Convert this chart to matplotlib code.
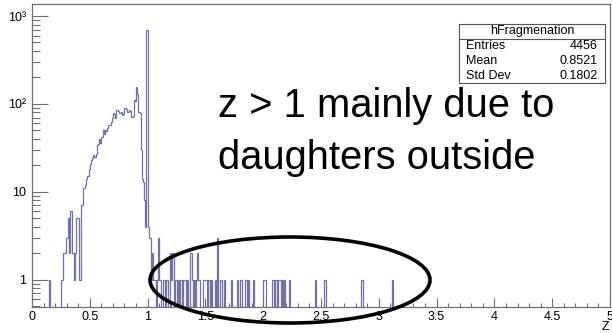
import numpy as np
import matplotlib
matplotlib.use("Agg")
import matplotlib.pyplot as plt
from matplotlib.patches import Ellipse, Rectangle
from matplotlib.ticker import FixedLocator, FixedFormatter, NullFormatter

plt.rcParams['font.family'] = ['Liberation Sans', 'DejaVu Sans']

# ---- data: histogram of z, 500 bins of width 0.01 on [0, 5] ----
bin_width = 0.01
n_bins = 500
# counts for bins 0.00 .. 0.99 (index = bin number)
low_counts = [0]*15 + [1] + [0]*9 + [
    1, 1, 2, 2, 3, 3, 5, 2, 6, 6,        # 0.25-0.34
    2, 1, 2, 5, 5, 5, 1, 7, 7, 11,       # 0.35-0.44
    11, 12, 14, 15, 18, 21, 23, 24, 26, 25,  # 0.45-0.54
    27, 34, 35, 40, 36, 42, 50, 45, 51, 49,  # 0.55-0.64
    53, 57, 58, 62, 70, 79, 77, 70, 85, 84,  # 0.65-0.74
    79, 78, 81, 74, 76, 90, 88, 81, 80, 85,  # 0.75-0.84
    84, 71, 72, 110, 108, 155, 130, 81, 79, 30,  # 0.85-0.94
    14, 13, 8, 4, 700,                   # 0.95-0.99
]
# sparse bins above z = 1 : bin index and count
high_bins = [100, 101, 102, 103, 104, 105, 106, 108, 109, 110, 111, 113, 114,
             116, 117, 119, 120, 121, 122, 124, 126, 128, 129, 131, 132, 134,
             137, 138, 140, 142, 143, 144, 148, 149, 150, 152, 153, 155, 158,
             160, 163, 166, 172, 177, 180, 181, 184, 185, 187, 191, 200, 201,
             208, 210, 211, 213, 214, 216, 218, 222, 245, 253, 285, 311]
high_counts = [4, 3, 3, 1, 2, 1, 1, 1, 3, 1, 1, 1, 1,
               1, 1, 2, 1, 2, 2, 1, 1, 1, 1, 1, 1, 1,
               2, 1, 1, 1, 2, 1, 1, 1, 1, 1, 1, 1, 1,
               3, 1, 1, 1, 1, 1, 1, 1, 1, 1, 1, 1, 1,
               1, 1, 1, 1, 1, 1, 1, 1, 1, 1, 1, 1]

stats_title = "hFragmenation"
stats_names = ["Entries", "Mean", "Std Dev"]
stats_values = ["4456", "0.8521", "0.1802"]

x_major = [0, 0.5, 1, 1.5, 2, 2.5, 3, 3.5, 4, 4.5, 5]
x_labels = ["0", "0.5", "1", "1.5", "2", "2.5", "3", "3.5", "4", "4.5", "5"]
y_major = [1, 10, 100, 1000]
y_labels = ["1", "10", "10\u00b2", "10\u00b3"]

counts = np.zeros(n_bins)
counts[:len(low_counts)] = low_counts
counts[high_bins] = high_counts
edges = np.arange(n_bins + 1) * bin_width

# ---- figure ----
W, H = 612, 333
fig = plt.figure(figsize=(W/100, H/100), dpi=100)
L, R, T, B = 32, 610, 4, 307
ax = fig.add_axes([L/W, 1 - B/H, (R-L)/W, (B-T)/H])

line_color = '#7272aa'
disp = np.where(counts > 0, counts, 1e-3)
ax.stairs(disp, edges, baseline=None, color=line_color, lw=0.9)

ax.set_yscale('log')
ax.set_xlim(0, 5)
ax.set_ylim(0.49, 1370)

frame_col = '#707070'
for s in ax.spines.values():
    s.set_color(frame_col)
    s.set_linewidth(0.9)

ax.xaxis.set_major_locator(FixedLocator(x_major))
ax.xaxis.set_major_formatter(FixedFormatter(x_labels))
ax.xaxis.set_minor_locator(FixedLocator(np.arange(0, 5.001, 0.1)))
ax.yaxis.set_major_locator(FixedLocator(y_major))
ax.yaxis.set_major_formatter(FixedFormatter(y_labels))
yminor = [v * 10**d for d in range(-1, 4) for v in range(2, 10)
          if 0.5 <= v * 10**d <= 1370]
ax.yaxis.set_minor_locator(FixedLocator(yminor))
ax.yaxis.set_minor_formatter(NullFormatter())

ax.tick_params(axis='x', which='major', direction='in', length=6.5, width=0.8,
               color=frame_col, labelsize=9, pad=3, top=False)
ax.tick_params(axis='x', which='minor', direction='in', length=3.2, width=0.8,
               color=frame_col, top=False)
ax.tick_params(axis='y', which='major', direction='in', length=11.5, width=0.8,
               color=frame_col, labelsize=9, pad=4, right=False)
ax.tick_params(axis='y', which='minor', direction='in', length=5.8, width=0.8,
               color=frame_col, right=False)

# axis title
fig.text(609/W, 1 - 327/H, "Z", ha='right', va='center', fontsize=9)

# stats box
def fx(px): return px / W
def fy(py): return 1 - py / H

bx0, bx1, by0, by1 = 459, 605, 24, 83
fig.add_artist(Rectangle((fx(bx0), fy(by1)), fx(bx1) - fx(bx0), fy(by0) - fy(by1),
                         transform=fig.transFigure, facecolor='white',
                         edgecolor='#555555', lw=0.8))
fig.add_artist(plt.Line2D([fx(bx0), fx(bx1)], [fy(38.5), fy(38.5)],
                          transform=fig.transFigure, color='#555555', lw=0.8))
fig.text(fx((bx0 + bx1) / 2), fy(31), stats_title, ha='center', va='center', fontsize=9)
for i, (nm, val) in enumerate(zip(stats_names, stats_values)):
    yy = fy(46 + i * 15)
    fig.text(fx(466), yy, nm, ha='left', va='center', fontsize=9)
    fig.text(fx(598), yy, val, ha='right', va='center', fontsize=9)

# annotation
fig.text(fx(218), fy(117), "z > 1 mainly due to", ha='left', va='baseline', fontsize=28.7)
fig.text(fx(218), fy(169), "daughters outside", ha='left', va='baseline', fontsize=28.7)

fig.add_artist(Ellipse((fx(290), fy(280)), 280 / W, 86 / H, transform=fig.transFigure,
                       facecolor='none', edgecolor='black', lw=2.6))

fig.savefig("out.png", dpi=100)
